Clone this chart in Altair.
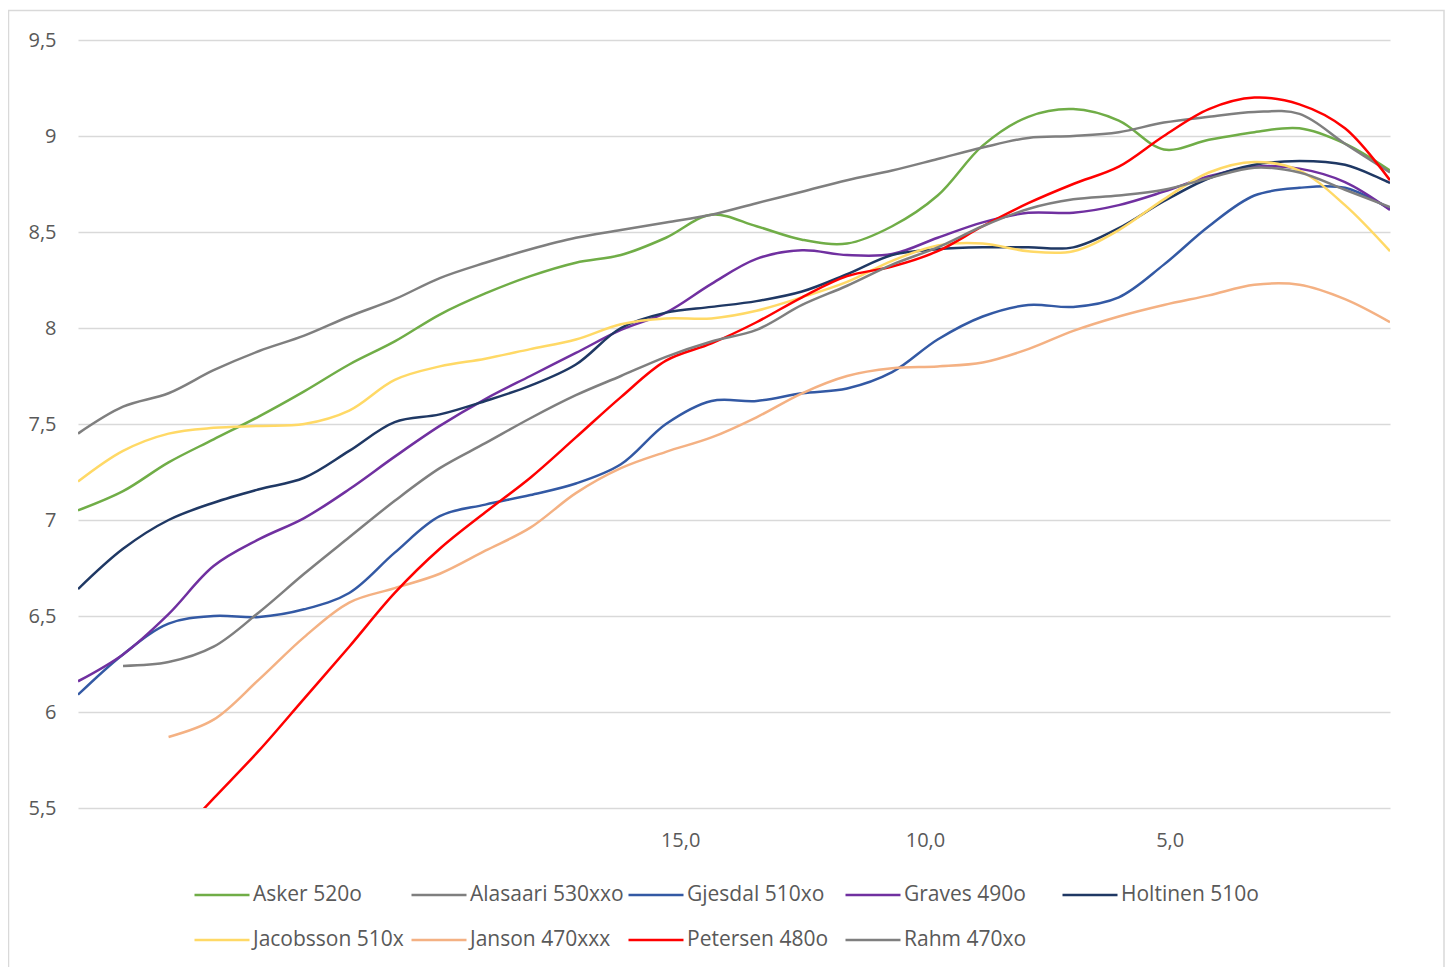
import altair as alt
import pandas as pd

# distance to take-off (m), one category per column of the chart
DIST = [27.30, 26.38, 25.45, 24.53, 23.60, 22.68, 21.76, 20.83, 19.91, 18.98,
        18.06, 17.13, 16.21, 15.29, 14.36, 13.44, 12.51, 11.59, 10.67, 9.74,
        8.82, 7.89, 6.97, 6.04, 5.12, 4.20, 3.27, 2.35, 1.42, 0.50]

SERIES = ["Asker 520o", "Alasaari 530xxo", "Gjesdal 510xo", "Graves 490o",
          "Holtinen 510o", "Jacobsson 510x", "Janson 470xxx", "Petersen 480o",
          "Rahm 470xo"]
COLORS = ["#70AD47", "#7F7F7F", "#3359A4", "#7030A0", "#1F3864",
          "#FFD966", "#F4B183", "#FF0000", "#7F7F7F"]

N = None
ASKER = [7.05, 7.15, 7.30, 7.42, 7.54, 7.67, 7.81, 7.93, 8.07, 8.18,
         8.27, 8.34, 8.38, 8.47, 8.59, 8.53, 8.46, 8.44, 8.53, 8.69,
         8.95, 9.10, 9.14, 9.08, 8.93, 8.98, 9.02, 9.04, 8.96, 8.82]
ALASAARI = [7.45, 7.59, 7.66, 7.78, 7.88, 7.96, 8.06, 8.15, 8.26, 8.34,
            8.41, 8.47, 8.51, 8.55, 8.59, 8.65, 8.71, 8.77, 8.82, 8.88,
            8.94, 8.99, 9.00, 9.02, 9.07, 9.10, 9.125, 9.115, 8.96, 8.81]
GJESDAL = [6.09, 6.30, 6.46, 6.50, 6.495, 6.535, 6.62, 6.83, 7.02, 7.08,
           7.13, 7.19, 7.29, 7.50, 7.62, 7.62, 7.66, 7.685, 7.77, 7.94,
           8.06, 8.12, 8.11, 8.16, 8.33, 8.53, 8.69, 8.73, 8.73, 8.62]
GRAVES = [6.16, 6.30, 6.51, 6.76, 6.90, 7.01, 7.16, 7.33, 7.49, 7.63,
          7.75, 7.87, 7.99, 8.08, 8.23, 8.36, 8.405, 8.38, 8.385, 8.47,
          8.55, 8.60, 8.60, 8.64, 8.71, 8.79, 8.84, 8.83, 8.76, 8.615]
HOLTINEN = [6.64, 6.85, 7.00, 7.09, 7.16, 7.22, 7.36, 7.51, 7.55, 7.62,
            7.70, 7.81, 8.00, 8.08, 8.11, 8.14, 8.19, 8.28, 8.38, 8.41,
            8.42, 8.42, 8.42, 8.52, 8.66, 8.78, 8.85, 8.87, 8.85, 8.755]
JACOBSSON = [7.20, 7.36, 7.45, 7.48, 7.49, 7.50, 7.57, 7.73, 7.80, 7.84,
             7.89, 7.94, 8.02, 8.05, 8.05, 8.09, 8.16, 8.24, 8.35, 8.43,
             8.44, 8.40, 8.40, 8.51, 8.67, 8.81, 8.865, 8.82, 8.64, 8.40]
JANSON = [N, N, 5.87, 5.96, 6.17, 6.39, 6.57, 6.645, 6.72, 6.84,
          6.96, 7.14, 7.27, 7.355, 7.43, 7.535, 7.66, 7.75, 7.79, 7.80,
          7.82, 7.89, 7.985, 8.06, 8.12, 8.17, 8.225, 8.225, 8.15, 8.03]
PETERSEN = [N, N, 5.30, 5.55, 5.80, 6.07, 6.34, 6.62, 6.85, 7.04,
            7.22, 7.43, 7.64, 7.83, 7.92, 8.03, 8.16, 8.27, 8.32, 8.40,
            8.53, 8.65, 8.75, 8.84, 9.00, 9.14, 9.20, 9.165, 9.04, 8.77]
RAHM = [N, 6.24, 6.26, 6.34, 6.52, 6.72, 6.91, 7.10, 7.27, 7.40,
        7.53, 7.65, 7.75, 7.85, 7.93, 7.99, 8.12, 8.22, 8.33, 8.42,
        8.53, 8.62, 8.67, 8.69, 8.72, 8.78, 8.835, 8.81, 8.72, 8.63]

VALUES = [ASKER, ALASAARI, GJESDAL, GRAVES, HOLTINEN, JACOBSSON, JANSON,
          PETERSEN, RAHM]
X_LABELS = [15, 10, 5]
Y_TICKS = [5.5, 6, 6.5, 7, 7.5, 8, 8.5, 9, 9.5]

rows = []
for order, (name, vals) in enumerate(zip(SERIES, VALUES)):
    for d, v in zip(DIST, vals):
        if v is not None:
            rows.append({"dist": d, "value": v, "series": name, "order": order})
df = pd.DataFrame(rows)

FONT = "Open Sans"
TXT = "#595959"
W, H = 1312, 768

lines = alt.Chart(df).mark_line(
    interpolate="catmull-rom", strokeWidth=2.5, clip=True
).encode(
    x=alt.X("dist:Q",
            scale=alt.Scale(domain=[DIST[-1], DIST[0]], reverse=True, nice=False, zero=False),
            axis=alt.Axis(values=X_LABELS, title=None, grid=False, ticks=False, domain=False,
                          labelExpr="replace(format(datum.value, '.1f'), '.', ',')",
                          labelFont=FONT, labelFontSize=20, labelColor=TXT,
                          labelPadding=22)),
    y=alt.Y("value:Q",
            scale=alt.Scale(domain=[5.5, 9.5], nice=False, zero=False),
            axis=alt.Axis(values=Y_TICKS, title=None, ticks=False, domain=False,
                          labelExpr="replace(toString(datum.value), '.', ',')",
                          labelFont=FONT, labelFontSize=20, labelColor=TXT,
                          labelPadding=22, gridColor="#D9D9D9", gridWidth=1.3)),
    color=alt.Color("series:N",
                    scale=alt.Scale(domain=SERIES, range=COLORS),
                    legend=alt.Legend(title=None, orient="none", legendX=115, legendY=826,
                                      direction="horizontal", columns=5,
                                      symbolType="stroke", symbolSize=3025,
                                      symbolStrokeWidth=2.5, symbolOffset=0,
                                      labelOffset=2, labelFont=FONT, labelFontSize=21,
                                      labelColor=TXT, labelLimit=400,
                                      gridAlign="all", columnPadding=-1, rowPadding=6,
                                      padding=0)),
    order=alt.Order("order:Q"),
)

frame = alt.Chart(pd.DataFrame({"a": [0]})).mark_rect(
    fillOpacity=0, stroke="#D9D9D9", strokeWidth=1.5
).encode(
    x=alt.value(-69.5), x2=alt.value(W + 54),
    y=alt.value(-29.5), y2=alt.value(H + 170),
)

chart = alt.layer(frame, lines).properties(
    width=W, height=H,
    autosize=alt.AutoSizeParams(type="none"),
    padding={"left": 70, "top": 32, "right": 55, "bottom": 159},
    background="white",
).configure_view(stroke=None)

chart.save("out.html", embed_options={"renderer": "svg", "actions": False})
